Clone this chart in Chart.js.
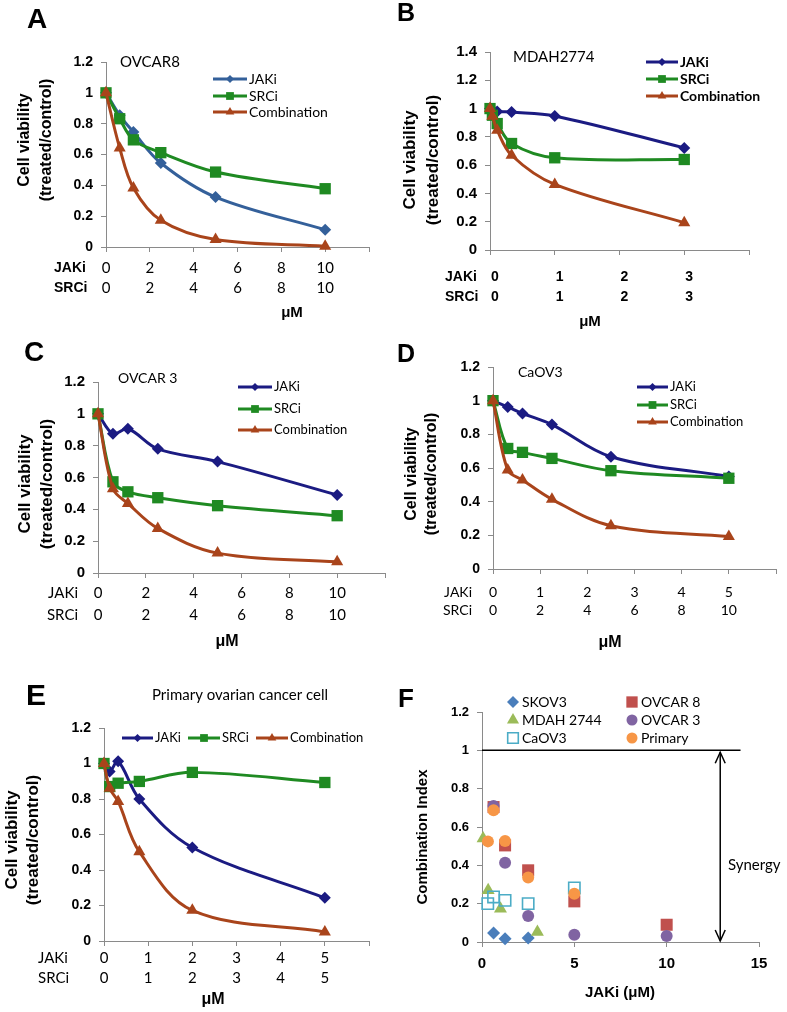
<!DOCTYPE html>
<html>
<head>
<meta charset="utf-8">
<script src="https://cdn.jsdelivr.net/npm/chart.js@4.4.1/dist/chart.umd.min.js"></script>
<style>
  html, body { margin: 0; padding: 0; background: #ffffff; }
  body { width: 787px; height: 1012px; position: relative; overflow: hidden; }
  canvas.c { position: absolute; }
</style>
</head>
<body>
<canvas id="cA" class="c"></canvas>
<canvas id="cB" class="c"></canvas>
<canvas id="cC" class="c"></canvas>
<canvas id="cD" class="c"></canvas>
<canvas id="cE" class="c"></canvas>
<canvas id="cF" class="c"></canvas>
<script>
// ---------------- DATA ----------------
const SERIES_NAMES = ['JAKi', 'SRCi', 'Combination'];
const ROW_NAMES = ['JAKi', 'SRCi'];

// A - OVCAR8
const A_dose = [0, 0.625, 1.25, 2.5, 5, 10];
const A_jaki = [1.0, 0.854, 0.746, 0.545, 0.324, 0.112];
const A_srci = [1.0, 0.832, 0.695, 0.612, 0.486, 0.378];
const A_comb = [1.0, 0.642, 0.383, 0.173, 0.048, 0.005];
const A_jakiTicks = ['0', '2', '4', '6', '8', '10', ''];
const A_srciTicks = ['0', '2', '4', '6', '8', '10', ''];

// B - MDAH2774
const B_dose = [0, 0.037, 0.111, 0.333, 1, 3];
const B_jaki = [1.0, 0.99, 0.98, 0.975, 0.948, 0.722];
const B_srci = [1.0, 0.953, 0.894, 0.753, 0.652, 0.64];
const B_comb = [1.0, 0.946, 0.847, 0.67, 0.464, 0.193];
const B_jakiTicks = ['0', '1', '2', '3', ''];
const B_srciTicks = ['0', '1', '2', '3', ''];

// C - OVCAR 3
const C_dose = [0, 0.625, 1.25, 2.5, 5, 10];
const C_jaki = [1.0, 0.875, 0.906, 0.78, 0.70, 0.49];
const C_srci = [1.0, 0.573, 0.51, 0.473, 0.423, 0.36];
const C_comb = [1.0, 0.53, 0.437, 0.28, 0.125, 0.07];
const C_jakiTicks = ['0', '2', '4', '6', '8', '10', ''];
const C_srciTicks = ['0', '2', '4', '6', '8', '10', ''];

// D - CaOV3 (x in JAKi units; SRCi dose is double)
const D_dose = [0, 0.3125, 0.625, 1.25, 2.5, 5];
const D_jaki = [1.0, 0.963, 0.924, 0.858, 0.667, 0.549];
const D_srci = [1.0, 0.716, 0.693, 0.657, 0.584, 0.539];
const D_comb = [1.0, 0.588, 0.529, 0.414, 0.257, 0.193];
const D_jakiTicks = ['0', '1', '2', '3', '4', '5', ''];
const D_srciTicks = ['0', '2', '4', '6', '8', '10', ''];

// E - Primary ovarian cancer cell
const E_dose = [0, 0.128, 0.32, 0.8, 2, 5];
const E_jaki = [1.0, 0.955, 1.012, 0.80, 0.527, 0.243];
const E_srci = [1.0, 0.87, 0.889, 0.899, 0.95, 0.893];
const E_comb = [1.0, 0.861, 0.786, 0.503, 0.173, 0.051];
const E_jakiTicks = ['0', '1', '2', '3', '4', '5', ''];
const E_srciTicks = ['0', '1', '2', '3', '4', '5', ''];

// F - Combination index vs JAKi (uM)
const F_NAMES = ['SKOV3', 'OVCAR 8', 'MDAH 2744', 'OVCAR 3', 'CaOV3', 'Primary'];
const F_skov3_x = [0.625, 1.25, 2.5];
const F_skov3_y = [0.047, 0.017, 0.021];
const F_ovcar8_x = [0.625, 1.25, 2.5, 5, 10];
const F_ovcar8_y = [0.704, 0.504, 0.374, 0.212, 0.09];
const F_mdah_x = [0.06, 0.333, 1, 3];
const F_mdah_y = [0.54, 0.27, 0.174, 0.052];
const F_ovcar3_x = [0.625, 1.25, 2.5, 5, 10];
const F_ovcar3_y = [0.71, 0.414, 0.136, 0.038, 0.031];
const F_caov3_x = [0.3125, 0.625, 1.25, 2.5, 5];
const F_caov3_y = [0.20, 0.235, 0.217, 0.20, 0.282];
const F_primary_x = [0.32, 0.625, 1.25, 2.5, 5];
const F_primary_y = [0.525, 0.687, 0.527, 0.336, 0.252];
const F_threshold = 1;

// ---------------- STYLE ----------------
const SANS = '"Liberation Sans", Arial, sans-serif';
const LATO = 'Lato, "Open Sans", sans-serif';
const FB = s => `bold ${s}px ${SANS}`;
const FL = (s, w) => `${w || 'normal'} ${s}px ${LATO}`;
const AXIS = '#8a8a8a';
const COL_JA = '#34609A';
const COL_J = '#1B1B82';
const COL_S = '#1F8A22';
const COL_C = '#A9441B';
const EXTRAS = {};
const fmtY = v => String(+(+v).toFixed(1));

function markerPath(ctx, style, x, y, r) {
  ctx.beginPath();
  if (style === 'rectRot') {
    ctx.moveTo(x, y - r); ctx.lineTo(x + r, y); ctx.lineTo(x, y + r); ctx.lineTo(x - r, y); ctx.closePath();
  } else if (style === 'rect') {
    const s = r * Math.SQRT1_2; ctx.rect(x - s, y - s, 2 * s, 2 * s);
  } else if (style === 'triangle') {
    const a = 2 * Math.PI / 3;
    ctx.moveTo(x, y - r);
    ctx.lineTo(x + r * Math.sin(a), y - r * Math.cos(a));
    ctx.lineTo(x + r * Math.sin(2 * a), y - r * Math.cos(2 * a));
    ctx.closePath();
  } else {
    ctx.arc(x, y, r, 0, Math.PI * 2);
  }
}

const extrasPlugin = {
  id: 'extras',
  afterDraw(chart) {
    const ex = EXTRAS[chart.canvas.id];
    if (!ex) return;
    const ctx = chart.ctx;
    ctx.save();
    ctx.translate(-ex.origin[0], -ex.origin[1]);
    (ex.texts || []).forEach(t => {
      ctx.save();
      ctx.font = t.font; ctx.fillStyle = '#000';
      ctx.textAlign = t.align || 'left'; ctx.textBaseline = 'middle';
      ctx.translate(t.x, t.y);
      if (t.rot) ctx.rotate(t.rot * Math.PI / 180);
      ctx.fillText(t.text, 0, 0);
      ctx.restore();
    });
    if (ex.legend) {
      const lg = ex.legend;
      lg.entries.forEach(e => {
        const ds = chart.data.datasets[e.ds];
        if (e.x0 !== undefined) {
          ctx.beginPath(); ctx.strokeStyle = ds.borderColor; ctx.lineWidth = 3;
          ctx.moveTo(e.x0, e.y); ctx.lineTo(e.x1, e.y); ctx.stroke();
        }
        const mx = e.mx !== undefined ? e.mx : (e.x0 + e.x1) / 2;
        markerPath(ctx, ds.pointStyle, mx, e.y, lg.radii[e.ds]);
        if (ds.pointBackgroundColor && ds.pointBackgroundColor !== 'rgba(255,255,255,0)') {
          ctx.fillStyle = ds.pointBackgroundColor; ctx.fill();
        } else if (!ds.pointBackgroundColor) {
          ctx.fillStyle = ds.borderColor; ctx.fill();
        }
        if (ds.pointBorderWidth) { ctx.strokeStyle = ds.pointBorderColor; ctx.lineWidth = ds.pointBorderWidth; ctx.stroke(); }
        ctx.font = lg.font; ctx.fillStyle = '#000'; ctx.textAlign = 'left'; ctx.textBaseline = 'middle';
        ctx.fillText(ds.label, e.tx, e.y);
      });
    }
    if (ex.arrow) {
      const xs = chart.scales.x, ys = chart.scales.y;
      const ox = ex.origin[0], oy = ex.origin[1];
      const px = xs.getPixelForValue(ex.arrow.x) + ox;
      const p0 = ys.getPixelForValue(ex.arrow.y0) + oy;
      const p1 = ys.getPixelForValue(ex.arrow.y1) + oy;
      ctx.strokeStyle = '#000'; ctx.lineWidth = 1.5;
      ctx.beginPath(); ctx.moveTo(px, p0); ctx.lineTo(px, p1); ctx.stroke();
      ctx.beginPath();
      ctx.moveTo(px - 5, p1 + 11); ctx.lineTo(px, p1); ctx.lineTo(px + 5, p1 + 11);
      ctx.moveTo(px - 5, p0 - 11); ctx.lineTo(px, p0); ctx.lineTo(px + 5, p0 - 11);
      ctx.stroke();
    }
    ctx.restore();
  }
};

function placeCanvas(id, box) {
  const cv = document.getElementById(id);
  cv.width = box[2]; cv.height = box[3];
  cv.style.left = box[0] + 'px'; cv.style.top = box[1] + 'px';
  cv.style.width = box[2] + 'px'; cv.style.height = box[3] + 'px';
  return cv;
}

function viability(cfg) {
  const [cx, cy, cw, ch] = cfg.box;
  const [L, T, R, B] = cfg.area;
  const cv = placeCanvas(cfg.id, cfg.box);
  const styles = ['rectRot', 'rect', 'triangle'];
  const radii = [6, 8, 7];
  const datasets = cfg.series.map((vals, i) => ({
    label: SERIES_NAMES[i],
    data: cfg.dose.map((d, k) => ({ x: d, y: vals[k] })),
    borderColor: cfg.colors[i],
    backgroundColor: cfg.colors[i],
    borderWidth: 3,
    pointStyle: styles[i],
    pointRadius: radii[i],
    pointBorderWidth: 0,
    pointBackgroundColor: cfg.colors[i],
    tension: 0.35,
    clip: false,
    order: 3 - i
  }));
  EXTRAS[cfg.id] = Object.assign({ origin: [cx, cy] }, cfg.extras);
  new Chart(cv, {
    type: 'line',
    data: { datasets },
    options: {
      responsive: false, animation: false, events: [],
      layout: { padding: { left: 0, top: T - cy, right: cx + cw - R, bottom: 0 } },
      plugins: { legend: { display: false }, tooltip: { enabled: false } },
      scales: {
        x: {
          type: 'linear', min: 0, max: cfg.xMax,
          afterFit: s => { s.height = cy + ch - B; },
          ticks: {
            stepSize: cfg.xStep, autoSkip: false, maxRotation: 0, minRotation: 0,
            color: '#000', font: cfg.xTickFont, padding: cfg.xTickPad, labelOffset: cfg.xLabelOffset || 0,
            callback: (v, i) => [cfg.jTicks[i] || '', cfg.sTicks[i] || '']
          },
          grid: { drawOnChartArea: false, drawTicks: true, tickLength: 5, color: AXIS },
          border: { display: true, color: AXIS, width: 1 }
        },
        y: {
          type: 'linear', min: 0, max: cfg.yMax,
          afterFit: s => { s.width = L - cx; },
          ticks: { stepSize: 0.2, color: '#000', font: cfg.yTickFont, padding: 8, callback: fmtY },
          grid: { drawOnChartArea: false, drawTicks: true, tickLength: 5, color: AXIS },
          border: { display: true, color: AXIS, width: 1 }
        }
      }
    },
    plugins: [extrasPlugin]
  });
}

function rowLabels(x, y1, y2, font, align) {
  return [
    { text: ROW_NAMES[0], x, y: y1, font, align: align || 'left' },
    { text: ROW_NAMES[1], x, y: y2, font, align: align || 'left' }
  ];
}
function yTitle(x1, x2, y, s1, s2) {
  return [
    { text: 'Cell viability', x: x1, y, font: FB(s1), align: 'center', rot: -90 },
    { text: '(treated/control)', x: x2, y, font: FB(s2), align: 'center', rot: -90 }
  ];
}
function stackLegend(x0, x1, ys) {
  return ys.map((y, i) => ({ ds: i, x0, x1, tx: x1 + 2, y }));
}

// ---------- Panel A ----------
viability({
  id: 'cA', box: [0, 0, 393, 330], area: [106, 62, 369, 247],
  dose: A_dose, series: [A_jaki, A_srci, A_comb], colors: [COL_JA, COL_S, COL_C],
  xMax: 12, xStep: 2, yMax: 1.2,
  jTicks: A_jakiTicks, sTicks: A_srciTicks,
  yTickFont: { family: SANS, size: 14, weight: 'bold' },
  xTickFont: { family: LATO, size: 15, lineHeight: '20px' }, xTickPad: 6,
  extras: {
    texts: [
      { text: 'A', x: 37, y: 20, font: FB(28), align: 'center' },
      { text: 'OVCAR8', x: 120, y: 62, font: FL(15) },
      ...yTitle(25, 47, 140, 16, 16),
      ...rowLabels(54, 268, 288, FB(14)),
      { text: 'μM', x: 292, y: 313, font: FB(15), align: 'center' }
    ],
    legend: { font: FL(14), radii: [4, 5.5, 5], entries: stackLegend(213, 247, [79, 96, 112]) }
  }
});

// ---------- Panel B ----------
viability({
  id: 'cB', box: [393, 0, 394, 335], area: [490, 52, 749, 250],
  dose: B_dose, series: [B_jaki, B_srci, B_comb], colors: [COL_J, COL_S, COL_C],
  xMax: 4, xStep: 1, yMax: 1.4,
  jTicks: B_jakiTicks, sTicks: B_srciTicks,
  yTickFont: { family: SANS, size: 15, weight: 'bold' },
  xTickFont: { family: SANS, size: 14, weight: 'bold', lineHeight: '20px' }, xTickPad: 12, xLabelOffset: 5,
  extras: {
    texts: [
      { text: 'B', x: 406, y: 14, font: FB(25), align: 'center' },
      { text: 'MDAH2774', x: 513, y: 57, font: FL(15) },
      ...yTitle(410, 433, 160, 17, 17),
      ...rowLabels(445, 277, 297, FB(14)),
      { text: 'μM', x: 590, y: 322, font: FB(15), align: 'center' }
    ],
    legend: { font: FL(14, 'bold'), radii: [4, 5.5, 5], entries: stackLegend(646, 678, [62, 79, 96]) }
  }
});

// ---------- Panel C ----------
viability({
  id: 'cC', box: [0, 325, 393, 335], area: [98, 382, 386, 573],
  dose: C_dose, series: [C_jaki, C_srci, C_comb], colors: [COL_J, COL_S, COL_C],
  xMax: 12, xStep: 2, yMax: 1.2,
  jTicks: C_jakiTicks, sTicks: C_srciTicks,
  yTickFont: { family: SANS, size: 15, weight: 'bold' },
  xTickFont: { family: LATO, size: 15, lineHeight: '22px' }, xTickPad: 4,
  extras: {
    texts: [
      { text: 'C', x: 34, y: 353, font: FB(28), align: 'center' },
      { text: 'OVCAR 3', x: 118, y: 378, font: FL(14) },
      ...yTitle(25, 47, 484, 17, 17),
      ...rowLabels(78, 593, 615, FL(15), 'right'),
      { text: 'μM', x: 227, y: 642, font: FB(16), align: 'center' }
    ],
    legend: { font: FL(13), radii: [4, 5.5, 5], entries: stackLegend(238, 272, [387, 409, 430]) }
  }
});

// ---------- Panel D ----------
viability({
  id: 'cD', box: [393, 325, 394, 335], area: [493, 367, 776, 569],
  dose: D_dose, series: [D_jaki, D_srci, D_comb], colors: [COL_J, COL_S, COL_C],
  xMax: 6, xStep: 1, yMax: 1.2,
  jTicks: D_jakiTicks, sTicks: D_srciTicks,
  yTickFont: { family: SANS, size: 14, weight: 'bold' },
  xTickFont: { family: LATO, size: 14, lineHeight: '18px' }, xTickPad: 9,
  extras: {
    texts: [
      { text: 'D', x: 406, y: 355, font: FB(25), align: 'center' },
      { text: 'CaOV3', x: 518, y: 372, font: FL(14) },
      ...yTitle(412, 432, 474, 16, 16),
      ...rowLabels(472, 592, 610, FL(14), 'right'),
      { text: 'μM', x: 610, y: 643, font: FB(16), align: 'center' }
    ],
    legend: { font: FL(13), radii: [4, 5.5, 5], entries: stackLegend(637, 668, [387, 405, 422]) }
  }
});

// ---------- Panel E ----------
viability({
  id: 'cE', box: [0, 660, 393, 352], area: [104, 728, 369, 941],
  dose: E_dose, series: [E_jaki, E_srci, E_comb], colors: [COL_J, COL_S, COL_C],
  xMax: 6, xStep: 1, yMax: 1.2,
  jTicks: E_jakiTicks, sTicks: E_srciTicks,
  yTickFont: { family: SANS, size: 14, weight: 'bold' },
  xTickFont: { family: LATO, size: 15, lineHeight: '20px' }, xTickPad: 2,
  extras: {
    texts: [
      { text: 'E', x: 36, y: 697, font: FB(30), align: 'center' },
      { text: 'Primary ovarian cancer cell', x: 240, y: 695, font: FL(15), align: 'center' },
      ...yTitle(12, 33, 840, 17, 17),
      ...rowLabels(38, 958, 978, FL(15)),
      { text: 'μM', x: 213, y: 1000, font: FB(16), align: 'center' }
    ],
    legend: {
      font: FL(13), radii: [4, 5.5, 5],
      entries: [
        { ds: 0, x0: 122, x1: 153, tx: 155, y: 738 },
        { ds: 1, x0: 188, x1: 220, tx: 222, y: 738 },
        { ds: 2, x0: 256, x1: 288, tx: 290, y: 738 }
      ]
    }
  }
});

// ---------- Panel F ----------
(function () {
  const box = [393, 660, 394, 352];
  const [cx, cy, cw, ch] = box;
  const [L, T, R, B] = [482, 712, 759, 942];
  const cv = placeCanvas('cF', box);
  const pts = (xs, ys) => xs.map((x, i) => ({ x, y: ys[i] }));
  const spec = [
    { x: F_skov3_x, y: F_skov3_y, style: 'rectRot', r: 6.5, col: '#4A7EBB' },
    { x: F_ovcar8_x, y: F_ovcar8_y, style: 'rect', r: 8.5, col: '#C0504D' },
    { x: F_mdah_x, y: F_mdah_y, style: 'triangle', r: 7.5, col: '#9BBB59' },
    { x: F_ovcar3_x, y: F_ovcar3_y, style: 'circle', r: 6, col: '#8064A2' },
    { x: F_caov3_x, y: F_caov3_y, style: 'rect', r: 8, col: '#4BACC6', open: true },
    { x: F_primary_x, y: F_primary_y, style: 'circle', r: 6, col: '#F79646' }
  ];
  const datasets = spec.map((s, i) => ({
    label: F_NAMES[i],
    data: pts(s.x, s.y),
    pointStyle: s.style, pointRadius: s.r,
    borderColor: s.col,
    backgroundColor: s.open ? 'rgba(255,255,255,0)' : s.col,
    pointBackgroundColor: s.open ? 'rgba(255,255,255,0)' : s.col,
    pointBorderColor: s.col,
    pointBorderWidth: s.open ? 1.6 : 0,
    showLine: false, clip: false, order: 10 - i
  }));
  datasets.push({
    type: 'line', label: 'threshold',
    data: [{ x: 0, y: F_threshold }, { x: 14, y: F_threshold }],
    borderColor: '#000', borderWidth: 1.5, pointRadius: 0, showLine: true, clip: false, order: 20
  });
  EXTRAS.cF = {
    origin: [cx, cy],
    texts: [
      { text: 'F', x: 406, y: 700, font: FB(26), align: 'center' },
      { text: 'Combination Index', x: 423, y: 837, font: FB(15), align: 'center', rot: -90 },
      { text: 'JAKi (μM)', x: 620, y: 993, font: FB(15), align: 'center' },
      { text: 'Synergy', x: 728, y: 865, font: FL(15) }
    ],
    legend: {
      font: FL(14), radii: [6, 8, 7, 5.5, 7.5, 5.5],
      entries: [
        { ds: 0, mx: 513, tx: 522, y: 702 }, { ds: 1, mx: 632, tx: 641, y: 702 },
        { ds: 2, mx: 513, tx: 522, y: 720 }, { ds: 3, mx: 632, tx: 641, y: 720 },
        { ds: 4, mx: 513, tx: 522, y: 738 }, { ds: 5, mx: 632, tx: 641, y: 738 }
      ]
    },
    arrow: { x: 12.9, y0: 0.005, y1: 0.99 }
  };
  new Chart(cv, {
    type: 'scatter',
    data: { datasets },
    options: {
      responsive: false, animation: false, events: [],
      layout: { padding: { left: 0, top: T - cy, right: cx + cw - R, bottom: 0 } },
      plugins: { legend: { display: false }, tooltip: { enabled: false } },
      scales: {
        x: {
          type: 'linear', min: 0, max: 15,
          afterFit: s => { s.height = cy + ch - B; },
          ticks: { stepSize: 5, color: '#000', font: { family: SANS, size: 15, weight: 'bold', lineHeight: '18px' }, padding: 8, maxRotation: 0 },
          grid: { drawOnChartArea: false, drawTicks: true, tickLength: 5, color: AXIS },
          border: { display: true, color: AXIS, width: 1 }
        },
        y: {
          type: 'linear', min: 0, max: 1.2,
          afterFit: s => { s.width = L - cx; },
          ticks: { stepSize: 0.2, color: '#000', font: { family: SANS, size: 13, weight: 'bold' }, padding: 8, callback: fmtY },
          grid: { drawOnChartArea: false, drawTicks: true, tickLength: 5, color: AXIS },
          border: { display: true, color: AXIS, width: 1 }
        }
      }
    },
    plugins: [extrasPlugin]
  });
})();
</script>
</body>
</html>
